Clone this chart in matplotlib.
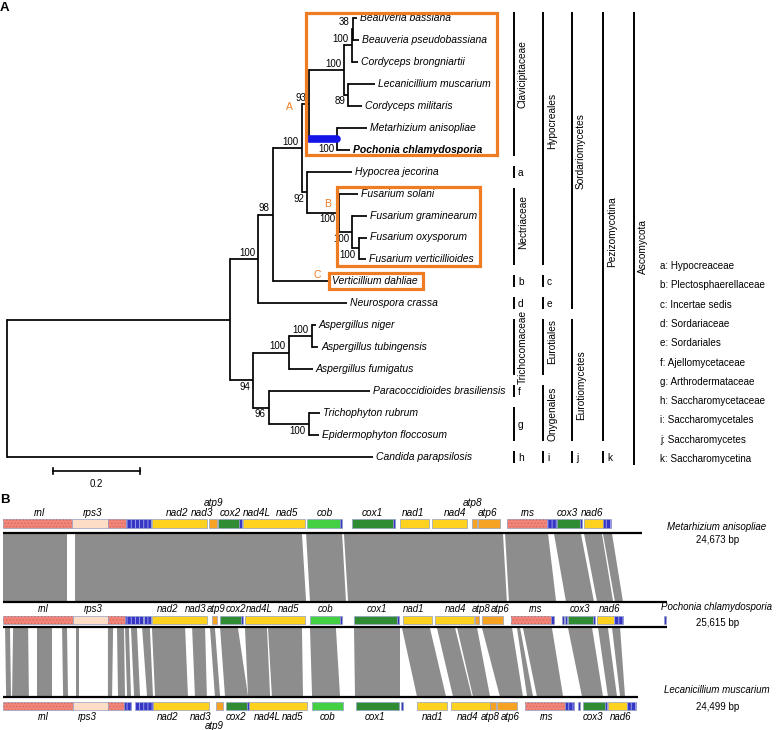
import numpy as np
import matplotlib.pyplot as plt
from matplotlib.patches import Rectangle, Polygon

plt.rcParams['font.family'] = ['Liberation Sans', 'DejaVu Sans']
plt.rcParams['hatch.linewidth'] = 0.6

W, H = 779, 730

# ---------------- panel A: tree ----------------
taxa = ["Beauveria bassiana", "Beauveria pseudobassiana", "Cordyceps brongniartii",
        "Lecanicillium muscarium", "Cordyceps militaris", "Metarhizium anisopliae",
        "Pochonia chlamydosporia", "Hypocrea jecorina", "Fusarium solani",
        "Fusarium graminearum", "Fusarium oxysporum", "Fusarium verticillioides",
        "Verticillium dahliae", "Neurospora crassa", "Aspergillus niger",
        "Aspergillus tubingensis", "Aspergillus fumigatus", "Paracoccidioides brasiliensis",
        "Trichophyton rubrum", "Epidermophyton floccosum", "Candida parapsilosis"]
# distance from root (substitutions/site)
tip_depth = [0.805, 0.809, 0.807, 0.846, 0.816, 0.828, 0.789, 0.793, 0.807, 0.828, 0.828,
             0.825, 0.740, 0.782, 0.710, 0.715, 0.703, 0.834, 0.720, 0.717, 0.841]

# name, depth, children, support, label side
nodes = [
    ("BB", 0.795, ["Beauveria bassiana", "Beauveria pseudobassiana"], "38", "above"),
    ("BBC", 0.792, ["BB", "Cordyceps brongniartii"], "100", "above"),
    ("LC", 0.784, ["Lecanicillium muscarium", "Cordyceps militaris"], "89", "below"),
    ("BC", 0.775, ["BBC", "LC"], "100", "above"),
    ("MP", 0.759, ["Metarhizium anisopliae", "Pochonia chlamydosporia"], "100", "below"),
    ("CLAV", 0.694, ["BC", "MP"], "93", "above"),
    ("OV", 0.809, ["Fusarium oxysporum", "Fusarium verticillioides"], "100", "below"),
    ("FGOV", 0.793, ["Fusarium graminearum", "OV"], "100", "below"),
    ("FUS", 0.763, ["Fusarium solani", "FGOV"], "100", "below"),
    ("HF", 0.690, ["Hypocrea jecorina", "FUS"], "92", "below"),
    ("HYP", 0.678, ["CLAV", "HF"], "100", "above"),
    ("HV", 0.611, ["HYP", "Verticillium dahliae"], "98", "above"),
    ("SORD", 0.577, ["HV", "Neurospora crassa"], "100", "above"),
    ("ANAT", 0.701, ["Aspergillus niger", "Aspergillus tubingensis"], "100", "above"),
    ("ASP", 0.648, ["ANAT", "Aspergillus fumigatus"], "100", "above"),
    ("TE", 0.694, ["Trichophyton rubrum", "Epidermophyton floccosum"], "100", "below"),
    ("ONY", 0.602, ["Paracoccidioides brasiliensis", "TE"], "96", "below"),
    ("EURO", 0.566, ["ASP", "ONY"], "94", "below"),
    ("SE", 0.513, ["SORD", "EURO"], "", None),
    ("ROOT", 0.0, ["SE", "Candida parapsilosis"], "", None),
]

# label, first tip, last tip, label centre (tip units)
families = [("Clavicipitaceae", 0, 6, 2.55), ("a", 7, 7, None), ("Nectriaceae", 8, 11, 9.29),
            ("b", 12, 12, None), ("d", 13, 13, None), ("Trichocomaceae", 14, 16, 14.99),
            ("f", 17, 17, None), ("g", 18, 19, None), ("h", 20, 20, None)]
orders = [("Hypocreales", 0, 11, 4.69), ("c", 12, 12, None), ("e", 13, 13, None),
          ("Eurotiales", 14, 16, 14.72), ("Onygenales", 17, 19, 18.04), ("i", 20, 20, None)]
classes = [("Sordariomycetes", 0, 13, 6.06), ("Eurotiomycetes", 14, 19, 16.72), ("j", 20, 20, None)]
subphyla = [("Pezizomycotina", 0, 19, 9.75), ("k", 20, 20, None)]
phyla = [("Ascomycota", 0, 20, 10.43)]
rank_cols = [families, orders, classes, subphyla, phyla]

legend_abbr = ["a: Hypocreaceae", "b: Plectosphaerellaceae", "c: Incertae sedis",
               "d: Sordariaceae", "e: Sordariales", "f: Ajellomycetaceae",
               "g: Arthrodermataceae", "h: Saccharomycetaceae", "i: Saccharomycetales",
               "j: Saccharomycetes", "k: Saccharomycetina"]

# ---------------- panel B: mitogenomes (kb) ----------------
genome_names = ["Metarhizium anisopliae", "Pochonia chlamydosporia", "Lecanicillium muscarium"]
genome_sizes = ["24,673 bp", "25,615 bp", "24,499 bp"]
genome_len = [24.673, 25.615, 24.499]

genes_ma = [(0.00, 2.66, "rrna"), (2.66, 4.05, "rps3"), (4.05, 4.75, "rrna"), (4.75, 5.71, "trna"),
            (5.75, 7.87, "nad"), (7.95, 8.26, "atp"), (8.30, 9.11, "cox"), (9.11, 9.23, "trna"),
            (9.26, 11.66, "nad"), (11.73, 13.01, "cob"), (13.01, 13.09, "trna"),
            (13.47, 15.05, "cox"), (15.05, 15.13, "trna"), (15.32, 16.44, "nad"),
            (16.56, 17.91, "nad"), (18.10, 18.30, "atp"), (18.34, 19.18, "atp"),
            (19.45, 21.00, "rrna"), (21.00, 21.38, "trna"), (21.38, 22.27, "cox"),
            (22.27, 22.35, "trna"), (22.43, 23.16, "nad"), (23.16, 23.47, "trna")]
genes_pc = [(0.00, 2.70, "rrna"), (2.70, 4.05, "rps3"), (4.05, 4.71, "rrna"), (4.71, 5.40, "trna"),
            (5.44, 5.71, "trna"), (5.75, 7.87, "nad"), (8.07, 8.26, "atp"), (8.38, 9.19, "cox"),
            (9.19, 9.26, "trna"), (9.34, 11.66, "nad"), (11.85, 13.01, "cob"),
            (13.01, 13.09, "trna"), (13.55, 15.21, "cox"), (15.21, 15.29, "trna"),
            (15.44, 16.56, "nad"), (16.68, 18.18, "nad"), (18.22, 18.37, "atp"),
            (18.49, 19.30, "atp"), (19.61, 21.15, "rrna"), (21.15, 21.27, "trna"),
            (21.57, 21.65, "trna"), (21.69, 21.77, "trna"), (21.81, 22.77, "cox"),
            (22.77, 22.85, "trna"), (22.93, 23.58, "nad"), (23.58, 23.93, "trna"),
            (25.50, 25.58, "trna")]
genes_lm = [(0.00, 2.70, "rrna"), (2.70, 4.05, "rps3"), (4.05, 4.67, "rrna"), (4.67, 4.94, "trna"),
            (5.10, 5.79, "trna"), (5.79, 7.95, "nad"), (8.22, 8.49, "atp"), (8.61, 9.42, "cox"),
            (9.42, 9.50, "trna"), (9.50, 11.73, "nad"), (11.93, 13.12, "cob"),
            (13.63, 15.29, "cox"), (15.36, 15.44, "trna"), (15.98, 17.14, "nad"),
            (17.29, 18.80, "nad"), (18.80, 19.03, "atp"), (19.07, 19.84, "atp"),
            (20.15, 21.69, "rrna"), (21.69, 22.04, "trna"), (22.20, 22.27, "trna"),
            (22.39, 23.24, "cox"), (23.24, 23.31, "trna"), (23.35, 24.09, "nad"),
            (24.09, 24.45, "trna")]

# gene name, centre (kb), shifted row (0 normal, 1 offset)
labels_ma = [("rnl", 1.39, 0), ("rps3", 3.47, 0), ("nad2", 6.72, 0), ("nad3", 7.68, 0),
             ("atp9", 8.11, 1), ("cox2", 8.76, 0), ("nad4L", 9.80, 0), ("nad5", 10.96, 0),
             ("cob", 12.43, 0), ("cox1", 14.24, 0), ("nad1", 15.83, 0), ("nad4", 17.45, 0),
             ("atp8", 18.14, 1), ("atp6", 18.72, 0), ("rns", 20.27, 0), ("cox3", 21.77, 0),
             ("nad6", 22.74, 0)]
labels_pc = [("rnl", 1.54, 0), ("rps3", 3.47, 0), ("nad2", 6.37, 0), ("nad3", 7.45, 0),
             ("atp9", 8.22, 0), ("cox2", 9.00, 0), ("nad4L", 9.88, 0), ("nad5", 11.02, 0),
             ("cob", 12.43, 0), ("cox1", 14.44, 0), ("nad1", 15.83, 0), ("nad4", 17.48, 0),
             ("atp8", 18.45, 0), ("atp6", 19.18, 0), ("rns", 20.54, 0), ("cox3", 22.27, 0),
             ("nad6", 23.43, 0)]
labels_lm = [("rnl", 1.54, 0), ("rps3", 3.24, 0), ("nad2", 6.37, 0), ("nad3", 7.62, 0),
             ("atp9", 8.15, 1), ("cox2", 8.99, 0), ("nad4L", 10.19, 0), ("nad5", 11.16, 0),
             ("cob", 12.51, 0), ("cox1", 14.36, 0), ("nad1", 16.60, 0), ("nad4", 17.95, 0),
             ("atp8", 18.80, 0), ("atp6", 19.57, 0), ("rns", 21.00, 0), ("cox3", 22.77, 0),
             ("nad6", 23.82, 0)]

# homologous blocks: (top start, top end, bottom start, bottom end) in kb
blocks_ma_pc = [(0.00, 2.47, 0.00, 2.47), (2.78, 11.54, 2.78, 11.70), (11.70, 13.09, 11.85, 13.24),
                (13.16, 19.30, 13.32, 19.45), (19.38, 21.04, 19.53, 21.35),
                (21.27, 22.31, 21.73, 22.81), (22.43, 23.12, 22.93, 23.55),
                (23.16, 23.51, 23.62, 23.93)]
blocks_pc_lm = [(0.08, 0.27, 0.12, 0.31), (0.39, 0.97, 0.35, 1.00), (1.31, 1.89, 1.31, 1.89),
                (2.28, 2.47, 2.32, 2.51), (2.82, 2.93, 2.82, 2.93), (4.05, 4.25, 4.05, 4.21),
                (4.40, 4.67, 4.44, 4.71), (4.71, 4.86, 4.79, 4.94), (4.94, 5.17, 5.06, 5.29),
                (5.37, 5.67, 5.56, 5.79), (5.75, 7.03, 5.87, 7.14), (7.30, 7.80, 7.41, 7.87),
                (7.99, 8.18, 8.18, 8.38), (8.38, 9.07, 8.57, 9.46), (9.34, 10.19, 9.46, 10.31),
                (10.23, 11.54, 10.38, 11.58), (11.85, 12.85, 11.93, 13.01),
                (13.55, 15.32, 13.59, 15.32), (15.40, 16.48, 15.98, 17.10),
                (16.75, 17.45, 17.37, 18.10), (17.53, 18.30, 18.14, 18.80),
                (18.49, 19.65, 19.18, 20.07), (19.84, 19.96, 20.23, 20.46),
                (20.07, 21.19, 20.61, 21.62), (21.81, 22.74, 22.35, 23.16),
                (22.97, 23.35, 23.35, 23.70), (23.51, 23.82, 23.82, 24.01)]

gene_color = {"rrna": "#F2857A", "rps3": "#FDDDC5", "trna": "#3636C4", "nad": "#FFD21F",
              "atp": "#F6A323", "cox": "#2F8C32", "cob": "#43D143"}
ORANGE = "#EF7B22"

fig = plt.figure(figsize=(W / 100, H / 100), dpi=100)

# pixel-space overlay for free annotations
ax_p = fig.add_axes([0, 0, 1, 1])
ax_p.set_xlim(0, W)
ax_p.set_ylim(H, 0)
ax_p.axis('off')

# tree axes: x in substitutions, y in tip index
PPU, ROOT_PX, TIP0_PX, STEP = 435.0, 7.0, 18.0, 21.95
ax_t = fig.add_axes([0, 0, 1, 1])
ax_t.set_xlim(-ROOT_PX / PPU, (W - ROOT_PX) / PPU)
ax_t.set_ylim((H - TIP0_PX) / STEP, -TIP0_PX / STEP)
ax_t.axis('off')


def tx(px):
    return (px - ROOT_PX) / PPU


ypos = {n: i for i, n in enumerate(taxa)}
xpos = dict(zip(taxa, tip_depth))
lw = 1.25
for name, depth, kids, sup, side in nodes:
    ys = [ypos[k] for k in kids]
    ypos[name] = (min(ys) + max(ys)) / 2
    xpos[name] = depth
    ax_t.plot([depth, depth], [min(ys), max(ys)], color='k', lw=lw, solid_capstyle='projecting')
    for k in kids:
        ax_t.plot([depth, xpos[k]], [ypos[k], ypos[k]], color='k', lw=lw, solid_capstyle='butt')
    if sup:
        dy = -0.3 if side == "above" else 0.3
        if name == "MP":  # sits under the thick blue branch
            dy = 0.45
        ax_t.text(depth - 3 / PPU, ypos[name] + dy, sup, ha='right', va='center', fontsize=7)

# blue branch to Metarhizium + Pochonia
ax_t.plot([xpos["CLAV"], xpos["MP"]], [ypos["MP"]] * 2, color='#1414E6', lw=5.5,
          solid_capstyle='round', zorder=3)

for i, n in enumerate(taxa):
    ax_t.text(tip_depth[i] + 3 / PPU, i, n, ha='left', va='center', fontsize=7.5,
              style='italic', weight='bold' if n.startswith("Pochonia") else 'normal')

# orange clade boxes: first tip, last tip, x0, x1 (px), pad
for t0, t1, x0, x1, pad in [(0, 6, 306, 497, 0.25), (8, 11, 337, 480, 0.3), (12, 12, 329, 423, 0.36)]:
    ax_t.add_patch(Rectangle((tx(x0), t0 - pad), tx(x1) - tx(x0), t1 - t0 + 2 * pad,
                             fill=False, edgecolor=ORANGE, lw=2.3, zorder=4))
for letter, lx, ly in [("A", 289, 107), ("B", 328, 204), ("C", 317, 275)]:
    ax_p.text(lx, ly, letter, color=ORANGE, fontsize=7.5, ha='center', va='center')

# taxonomy columns
for col, cx in zip(rank_cols, [514, 543, 572, 603, 634]):
    for lab, a, b, c in col:
        ax_t.plot([tx(cx), tx(cx)], [a - 0.27, b + 0.27 + (0.1 if lab == "Ascomycota" else 0)],
                  color='k', lw=1.4, solid_capstyle='butt')
        if c is None:
            ax_t.text(tx(cx + 4), (a + b) / 2 + 0.05, lab, ha='left', va='center', fontsize=7.3)
        else:
            ax_t.text(tx(cx + 9), c, lab, rotation=90, ha='center', va='center', fontsize=7.3)

for k, s in enumerate(legend_abbr):
    ax_p.text(660, 266 + 19.3 * k, s, ha='left', va='center', fontsize=7.1)

# scale bar
sy = (471 - TIP0_PX) / STEP
sx0 = tx(53)
ax_t.plot([sx0, sx0 + 0.2], [sy, sy], color='k', lw=1.2)
for xx in (sx0, sx0 + 0.2):
    ax_t.plot([xx, xx], [sy - 0.14, sy + 0.14], color='k', lw=1.2)
ax_t.text(sx0 + 0.1, sy + 0.6, "0.2", ha='center', va='center', fontsize=7)

ax_p.text(0, 8, "A", fontsize=9.5, weight='bold', ha='left', va='center')
ax_p.text(0, 500, "B", fontsize=9.5, weight='bold', ha='left', va='center')

# ---------------- panel B drawing ----------------
KB, GX0 = 0.0386, 3.0
ax_g = fig.add_axes([0, 0, 1, 1])
ax_g.set_xlim(-GX0 * KB, (W - GX0) * KB)
ax_g.set_ylim(H, 0)
ax_g.axis('off')


def draw_genes(genes, y0, h):
    for s, e, kind in genes:
        ax_g.add_patch(Rectangle((s, y0), e - s, h, facecolor=gene_color[kind],
                                 edgecolor='#93A0C4', lw=0.5, zorder=3))
        if kind == "rrna":
            ax_g.add_patch(Rectangle((s, y0), e - s, h, fill=False, hatch='.....',
                                     edgecolor='#D86A60', lw=0, zorder=3.5))
        elif kind == "trna" and e - s > 0.2:
            ax_g.add_patch(Rectangle((s, y0), e - s, h, fill=False, hatch='||||',
                                     edgecolor='#A8A8F2', lw=0, zorder=3.5))


def draw_labels(labels, y, y_shift, fs):
    for n, c, sh in labels:
        ax_g.text(c, y_shift if sh else y, n, ha='center', va='center', fontsize=fs, style='italic')


def draw_blocks(blocks, ytop, ybot):
    for t0, t1, b0, b1 in blocks:
        ax_g.add_patch(Polygon([(t0, ytop), (t1, ytop), (b1, ybot), (b0, ybot)],
                               closed=True, facecolor='#8D8D8D', edgecolor='none', zorder=1))


draw_genes(genes_ma, 519, 9)
draw_genes(genes_pc, 616, 7.5)
draw_genes(genes_lm, 702, 8)
draw_labels(labels_ma, 513, 503, 7.2)
draw_labels(labels_pc, 609, 609, 6.9)
draw_labels(labels_lm, 717, 726, 7.0)
draw_blocks(blocks_ma_pc, 534, 601.5)
draw_blocks(blocks_pc_lm, 628, 696.5)

for y, L in [(533, genome_len[0]), (602, genome_len[1]), (627, genome_len[1]), (697, genome_len[2])]:
    ax_g.plot([0, L], [y, y], color='k', lw=1.6, solid_capstyle='butt', zorder=2)

for n, s, (yn, ys) in zip(genome_names, genome_sizes, [(527, 540), (607, 623), (690, 707)]):
    ax_p.text(717, yn, n, ha='center', va='center', fontsize=7, style='italic')
    ax_p.text(718, ys, s, ha='center', va='center', fontsize=7)

fig.savefig('out.png', dpi=100)
